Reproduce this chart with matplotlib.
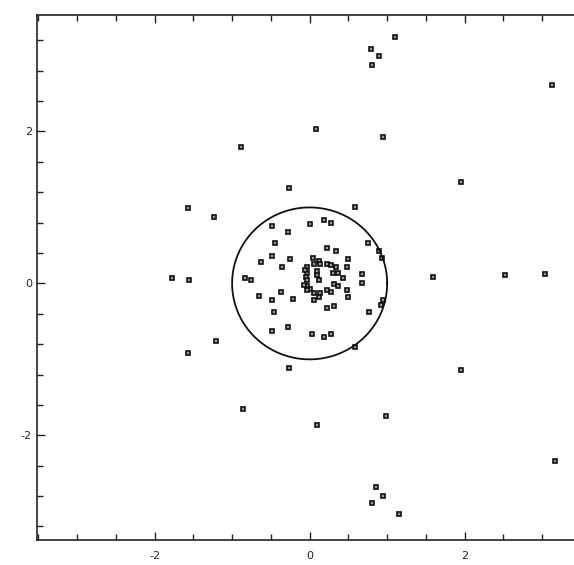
import numpy as np
import matplotlib
matplotlib.use("Agg")
import matplotlib.pyplot as plt
from matplotlib.ticker import MultipleLocator

plt.rcParams["axes.unicode_minus"] = False

# points (data units)
outer_x = [1.10, 0.79, 0.90, 0.81, 3.12, 0.95, 0.08, -0.89, 1.95, -0.27,
           -1.57, -1.23, 0.58, -1.77, -1.55, 1.59, 2.52, 3.03, -1.57, -1.21,
           -0.27, 1.95, 0.58, -0.86, 0.09, 0.98, 3.16, 0.85, 0.94, 0.81, 1.15]
outer_y = [3.24, 3.09, 2.99, 2.87, 2.61, 1.93, 2.03, 1.79, 1.34, 1.25,
           0.99, 0.87, 1.00, 0.07, 0.05, 0.08, 0.11, 0.13, -0.92, -0.76,
           -1.11, -1.14, -0.84, -1.66, -1.87, -1.74, -2.34, -2.68, -2.80, -2.89, -3.04]

inner_x = [-0.49, -0.28, 0.01, 0.18, 0.27, -0.45, -0.48, -0.25, -0.36, -0.63,
           -0.84, -0.75, 0.23, 0.34, 0.75, 0.89, 0.93, 0.04, 0.12, 0.13,
           0.05, -0.03, 0.22, 0.28, 0.34, 0.50, 0.48, 0.68, 0.30, 0.37,
           0.43, 0.68, -0.04, -0.05, -0.04, 0.09, 0.12, -0.04, 0.00, 0.31,
           0.37, 0.48, -0.65, -0.37, -0.48, -0.22, -0.04, 0.06, 0.13, 0.23,
           0.27, 0.12, 0.05, 0.50, 0.22, 0.32, -0.46, 0.95, 0.92, 0.76,
           -0.49, -0.28, 0.03, 0.19, 0.27, -0.06, -0.07, 0.10]
inner_y = [0.75, 0.68, 0.78, 0.84, 0.79, 0.53, 0.36, 0.32, 0.22, 0.28,
           0.07, 0.05, 0.46, 0.42, 0.53, 0.42, 0.34, 0.34, 0.30, 0.25,
           0.26, 0.21, 0.26, 0.24, 0.22, 0.32, 0.21, 0.13, 0.14, 0.14,
           0.07, 0.00, 0.14, 0.09, 0.05, 0.11, 0.05, -0.03, -0.07, -0.01,
           -0.03, -0.09, -0.17, -0.11, -0.22, -0.20, -0.09, -0.13, -0.13, -0.09,
           -0.11, -0.18, -0.22, -0.18, -0.32, -0.30, -0.38, -0.22, -0.29, -0.38,
           -0.63, -0.57, -0.66, -0.70, -0.66, 0.18, -0.02, 0.16]

circle_radius = 1.0

fig = plt.figure(figsize=(5.74, 5.65), dpi=100)
ax = fig.add_axes([0.064, 0.044, 0.936, 0.929])

xs = outer_x + inner_x
ys = outer_y + inner_y
ax.plot(xs, ys, linestyle="none", marker="s", ms=3.0, mfc="#999999",
        mec="#111111", mew=1.2)

t = np.linspace(0, 2 * np.pi, 400)
ax.plot(circle_radius * np.cos(t), circle_radius * np.sin(t),
        color="#111111", lw=1.3)

ax.set_xlim(-3.52, 3.41)
ax.set_ylim(-3.38, 3.53)

ax.xaxis.set_major_locator(MultipleLocator(2))
ax.yaxis.set_major_locator(MultipleLocator(2))
ax.xaxis.set_minor_locator(MultipleLocator(0.5))
ax.yaxis.set_minor_locator(MultipleLocator(0.4))
ax.tick_params(which="both", direction="in", top=True, right=False,
               colors="#222222", labelsize=8, width=1.0)
ax.tick_params(which="major", length=6)
ax.tick_params(which="minor", length=4)
ax.tick_params(axis="x", pad=8)

ax.spines["right"].set_visible(False)
for side in ["left", "bottom", "top"]:
    ax.spines[side].set_linewidth(1.2)
    ax.spines[side].set_color("#222222")

fig.savefig("out.png", dpi=100)
